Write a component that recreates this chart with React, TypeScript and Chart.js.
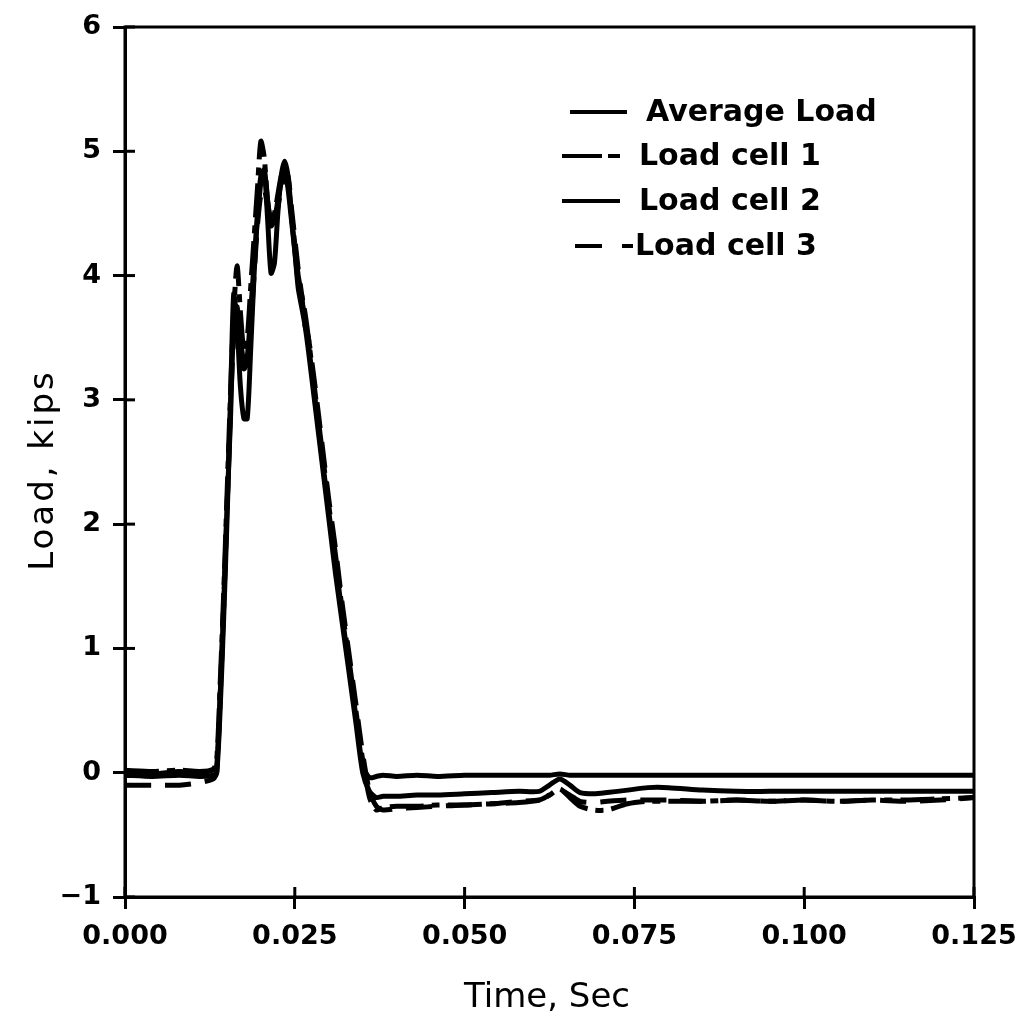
import React, { useEffect, useRef } from "react";
import { Chart, registerables } from "chart.js";

Chart.register(...registerables);

const timeSec = [
  0.0, 0.004, 0.008, 0.011, 0.013, 0.0135, 0.014, 0.0145, 0.015, 0.0155,
  0.016, 0.0165, 0.017, 0.0175, 0.018, 0.0185, 0.019, 0.0195, 0.02, 0.0205,
  0.021, 0.0215, 0.022, 0.0225, 0.023, 0.0235, 0.024, 0.0245, 0.025, 0.0255,
  0.026, 0.0265, 0.027, 0.028, 0.029, 0.03, 0.031, 0.032, 0.033, 0.034,
  0.035, 0.036, 0.037, 0.038, 0.04, 0.043, 0.046, 0.05, 0.054, 0.058,
  0.061, 0.0625, 0.064, 0.0655, 0.067, 0.069, 0.071, 0.074, 0.077, 0.08,
  0.085, 0.09, 0.095, 0.1, 0.105, 0.11, 0.115, 0.12, 0.125,
];

const averageLoad = [
  0.0, -0.01, 0.01, 0.0, 0.02, 0.05, 0.6, 1.3, 2.1, 2.8,
  3.6, 3.75, 3.5, 3.3, 3.35, 3.7, 4.1, 4.45, 4.75, 4.85,
  4.6, 4.4, 4.45, 4.6, 4.75, 4.85, 4.7, 4.45, 4.2, 3.95,
  3.8, 3.65, 3.45, 3.0, 2.55, 2.1, 1.7, 1.25, 0.85, 0.45,
  0.05, -0.04, -0.03, -0.02, -0.03, -0.02, -0.03, -0.02, -0.02, -0.02,
  -0.02, -0.02, -0.01, -0.02, -0.02, -0.02, -0.02, -0.02, -0.02, -0.02,
  -0.02, -0.02, -0.02, -0.02, -0.02, -0.02, -0.02, -0.02, -0.02,
];

const loadCell1 = [
  0.02, 0.01, 0.02, 0.01, 0.03, 0.1, 0.7, 1.4, 2.2, 3.0,
  3.7, 4.08, 3.7, 3.4, 3.5, 3.9, 4.3, 4.7, 5.08, 4.95,
  4.6, 4.45, 4.5, 4.65, 4.8, 4.85, 4.75, 4.5, 4.25, 4.0,
  3.85, 3.7, 3.5, 3.05, 2.6, 2.15, 1.75, 1.3, 0.9, 0.5,
  0.1, -0.2, -0.3, -0.28, -0.27, -0.27, -0.26, -0.26, -0.25, -0.24,
  -0.22, -0.18, -0.13, -0.2, -0.27, -0.3, -0.3, -0.25, -0.23, -0.23,
  -0.23, -0.22, -0.23, -0.22, -0.23, -0.22, -0.22, -0.21, -0.2,
];

const loadCell2 = [
  -0.02, -0.03, -0.02, -0.03, -0.02, 0.0, 0.5, 1.2, 2.0, 2.9,
  3.85, 3.6, 3.1, 2.85, 2.85, 3.4, 4.0, 4.5, 4.8, 4.85,
  4.45, 4.02, 4.1, 4.5, 4.8, 4.92, 4.8, 4.5, 4.2, 3.9,
  3.75, 3.6, 3.4, 2.95, 2.5, 2.05, 1.6, 1.2, 0.8, 0.4,
  0.0, -0.15, -0.2, -0.19, -0.19, -0.18, -0.18, -0.17, -0.16, -0.15,
  -0.15, -0.1, -0.05, -0.1, -0.16, -0.17, -0.16, -0.14, -0.12, -0.12,
  -0.14, -0.15, -0.15, -0.15, -0.15, -0.15, -0.15, -0.15, -0.15,
];

const loadCell3 = [
  -0.1, -0.1, -0.1, -0.08, -0.05, 0.0, 0.6, 1.3, 2.1, 2.9,
  3.5, 3.7, 3.45, 3.25, 3.3, 3.6, 4.0, 4.4, 4.65, 4.7,
  4.55, 4.4, 4.4, 4.55, 4.7, 4.8, 4.8, 4.55, 4.3, 4.05,
  3.85, 3.6, 3.5, 3.1, 2.65, 2.2, 1.8, 1.35, 0.95, 0.55,
  0.15, -0.15, -0.27, -0.3, -0.29, -0.28, -0.27, -0.26, -0.25, -0.23,
  -0.22, -0.18, -0.14, -0.18, -0.23, -0.24, -0.23, -0.22, -0.22, -0.22,
  -0.23, -0.22, -0.23, -0.22, -0.23, -0.22, -0.23, -0.22, -0.2,
];

const seriesLabels = ["Average Load", "Load cell 1", "Load cell 2", "Load cell 3"];
const xTickValues = [0, 0.025, 0.05, 0.075, 0.1, 0.125];
const yTickValues = [-1, 0, 1, 2, 3, 4, 5, 6];
const xTitle = "Time, Sec";
const yTitle = "Load, kips";

const FONT = "'DejaVu Sans', 'Liberation Sans', sans-serif";

const dashes: number[][] = [[], [34, 8, 8, 8], [], [26, 14]];
const legendSamples = [
  { x0: 570, x1: 627, tx: 646, dash: [] as number[] },
  { x0: 562, x1: 620, tx: 639, dash: [40, 6, 12, 100] },
  { x0: 562, x1: 620, tx: 639, dash: [] as number[] },
  { x0: 575, x1: 633, tx: 635, dash: [27, 20, 11, 100] },
];
const legendRowsY = [112, 156, 201, 246];

const framePlugin = {
  id: "frameAndLabels",
  afterDraw(chart: any) {
    const { ctx, chartArea } = chart;
    const xs = chart.scales.x;
    const ys = chart.scales.y;
    ctx.save();
    ctx.strokeStyle = "#000";
    ctx.lineWidth = 3;
    ctx.setLineDash([]);
    ctx.strokeRect(chartArea.left, chartArea.top, chartArea.right - chartArea.left, chartArea.bottom - chartArea.top);
    yTickValues.forEach((v) => {
      const py = ys.getPixelForValue(v);
      ctx.beginPath();
      ctx.moveTo(chartArea.left, py);
      ctx.lineTo(chartArea.left + 10, py);
      ctx.stroke();
    });
    xTickValues.forEach((v) => {
      const px = xs.getPixelForValue(v);
      ctx.beginPath();
      ctx.moveTo(px, chartArea.bottom);
      ctx.lineTo(px, chartArea.bottom - 10);
      ctx.stroke();
    });
    ctx.fillStyle = "#000";
    ctx.font = `34px ${FONT}`;
    ctx.textAlign = "center";
    ctx.textBaseline = "middle";
    ctx.fillText(xTitle, 547, 998);
    ctx.save();
    ctx.translate(44, 470);
    ctx.rotate(-Math.PI / 2);
    try { (ctx as any).letterSpacing = "3px"; } catch (e) {}
    ctx.fillText(yTitle, 0, 0);
    try { (ctx as any).letterSpacing = "0px"; } catch (e) {}
    ctx.restore();
    ctx.font = `bold 30px ${FONT}`;
    ctx.textAlign = "left";
    chart.data.datasets.forEach((ds: any, i: number) => {
      const s = legendSamples[i];
      const y = legendRowsY[i];
      ctx.lineWidth = 4;
      ctx.setLineDash(s.dash);
      ctx.beginPath();
      ctx.moveTo(s.x0, y);
      ctx.lineTo(s.x1, y);
      ctx.stroke();
      ctx.setLineDash([]);
      ctx.fillText(ds.label, s.tx, y + 1);
    });
    ctx.restore();
  },
};

export default function App() {
  const ref = useRef<HTMLCanvasElement>(null);
  useEffect(() => {
    if (!ref.current) return;
    const allSeries = [averageLoad, loadCell1, loadCell2, loadCell3];
    const chart = new Chart(ref.current, {
      type: "line",
      data: {
        datasets: allSeries.map((vals, i) => ({
          label: seriesLabels[i],
          data: timeSec.map((t, j) => ({ x: t, y: vals[j] })),
          borderColor: "#000",
          borderWidth: 5,
          borderDash: dashes[i],
          pointRadius: 0,
          tension: 0.25,
          fill: false,
        })),
      },
      options: {
        responsive: false,
        animation: false,
        layout: { padding: { left: 0, top: 27, right: 50, bottom: 0 } },
        plugins: { legend: { display: false }, tooltip: { enabled: false } },
        scales: {
          x: {
            type: "linear",
            min: 0,
            max: 0.125,
            afterBuildTicks: (s: any) => {
              s.ticks = xTickValues.map((v) => ({ value: v }));
            },
            afterFit: (s: any) => {
              s.height = 134;
              s.paddingLeft = 0;
              s.paddingRight = 0;
            },
            ticks: {
              color: "#000",
              font: { family: FONT, size: 27, weight: "bold" },
              padding: 12,
              maxRotation: 0,
              callback: (v: any) => Number(v).toFixed(3),
            },
            grid: { drawOnChartArea: false, drawTicks: true, tickLength: 12, color: "#000", lineWidth: 3 },
            border: { display: true, color: "#000", width: 3 },
          },
          y: {
            type: "linear",
            min: -1,
            max: 6,
            afterBuildTicks: (s: any) => {
              s.ticks = yTickValues.map((v) => ({ value: v }));
            },
            afterFit: (s: any) => {
              s.width = 125;
              s.paddingTop = 0;
              s.paddingBottom = 0;
            },
            ticks: {
              color: "#000",
              font: { family: FONT, size: 27, weight: "bold" },
              padding: 12,
              callback: (v: any) => (Number(v) < 0 ? "\u2212" + Math.abs(Number(v)) : String(v)),
            },
            grid: { drawOnChartArea: false, drawTicks: true, tickLength: 12, color: "#000", lineWidth: 3 },
            border: { display: true, color: "#000", width: 3 },
          },
        },
      },
      plugins: [framePlugin],
    });
    return () => chart.destroy();
  }, []);
  return (
    <div style={{ position: "absolute", left: 0, top: 0, width: 1024, height: 1031, background: "#fff" }}>
      <canvas ref={ref} width={1024} height={1031} style={{ display: "block" }} />
    </div>
  );
}
